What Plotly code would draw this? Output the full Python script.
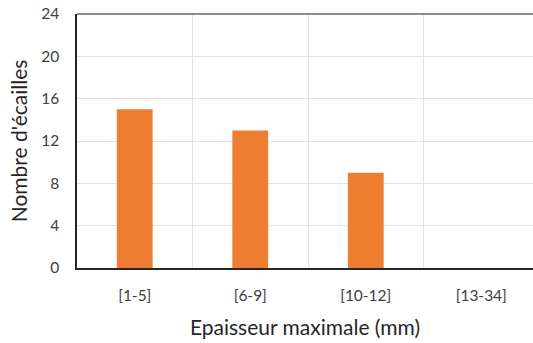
import plotly.graph_objects as go

categories = ['[1-5]', '[6-9]', '[10-12]', '[13-34]']
nombre_ecailles = [15, 13, 9, 0]

y_ticks = [0, 4, 8, 12, 16, 20, 24]

font_name = 'Lato, Open Sans, sans-serif'

fig = go.Figure()
fig.add_trace(go.Bar(x=categories, y=nombre_ecailles, width=0.31,
                     marker=dict(color='#ED7D31', line=dict(width=0))))

# top frame line (grey) of the plot area
fig.add_shape(type='line', xref='paper', yref='paper', x0=0, x1=1, y0=1, y1=1,
              line=dict(color='#8C8C8C', width=2))

fig.update_xaxes(type='category', range=[-0.5, 3.448], tickson='boundaries',
                 showgrid=True, gridcolor='#E3E3E3', gridwidth=1,
                 showline=True, linecolor='#262626', linewidth=1.5,
                 ticks='', ticklabelstandoff=13,
                 tickfont=dict(family=font_name, size=15.5, color='#404040'),
                 title=dict(text='Epaisseur maximale (mm)', standoff=17,
                            font=dict(family=font_name, size=21, color='#262626')))
fig.update_yaxes(range=[0, 24], tickvals=y_ticks,
                 showgrid=True, gridcolor='#E3E3E3', gridwidth=1,
                 showline=True, linecolor='#262626', linewidth=1.5,
                 zeroline=False, ticks='', ticklabelstandoff=13,
                 tickfont=dict(family=font_name, size=15.5, color='#404040'),
                 title=dict(text="Nombre d'écailles", standoff=8,
                            font=dict(family=font_name, size=21, color='#262626')))

fig.update_layout(width=533, height=343, margin=dict(l=77, r=0, t=14, b=75),
                  plot_bgcolor='white', paper_bgcolor='white', showlegend=False)

# drop the default 8px page margin so the figure fills the window
fig.write_html("out.html", config={'displayModeBar': False},
               post_script="document.body.style.margin='0';")
